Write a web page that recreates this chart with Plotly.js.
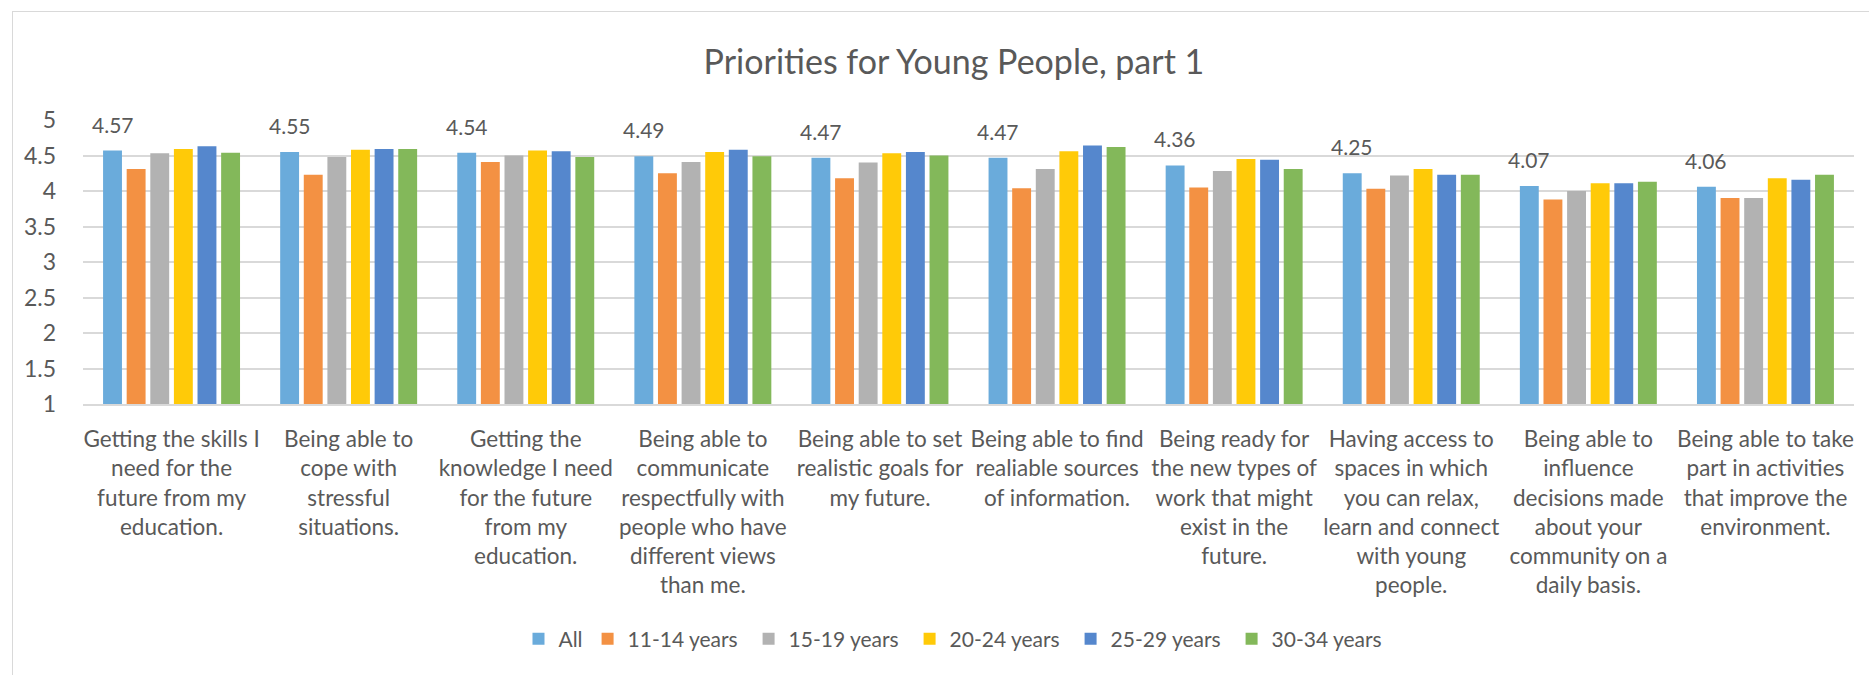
<!DOCTYPE html>
<html>
<head>
<meta charset="utf-8">
<script src="https://cdn.plot.ly/plotly-3.0.1.min.js"></script>
<style>
  html, body { margin: 0; padding: 0; background: #ffffff; overflow: hidden; }
  #chart { width: 1869px; height: 675px; }
  #frame { position: absolute; left: 12px; top: 11px; right: -5px; bottom: -5px;
           border: 1.5px solid #d9d9d9; pointer-events: none; }
</style>
</head>
<body>
<div id="chart"></div>
<div id="frame"></div>
<script>
const categories = [
  "Getting the skills I<br>need for the<br>future from my<br>education.",
  "Being able to<br>cope with<br>stressful<br>situations.",
  "Getting the<br>knowledge I need<br>for the future<br>from my<br>education.",
  "Being able to<br>communicate<br>respectfully with<br>people who have<br>different views<br>than me.",
  "Being able to set<br>realistic goals for<br>my future.",
  "Being able to find<br>realiable sources<br>of information.",
  "Being ready for<br>the new types of<br>work that might<br>exist in the<br>future.",
  "Having access to<br>spaces in which<br>you can relax,<br>learn and connect<br>with young<br>people.",
  "Being able to<br>influence<br>decisions made<br>about your<br>community on a<br>daily basis.",
  "Being able to take<br>part in activities<br>that improve the<br>environment."
];

const seriesNames = ["All", "11-14 years", "15-19 years", "20-24 years", "25-29 years", "30-34 years"];

const all    = [4.57, 4.55, 4.54, 4.49, 4.47, 4.47, 4.36, 4.25, 4.07, 4.06];
const age1114 = [4.31, 4.23, 4.41, 4.25, 4.18, 4.04, 4.05, 4.03, 3.88, 3.90];
const age1519 = [4.53, 4.48, 4.50, 4.41, 4.40, 4.31, 4.28, 4.22, 4.00, 3.90];
const age2024 = [4.59, 4.58, 4.57, 4.55, 4.53, 4.56, 4.45, 4.31, 4.11, 4.18];
const age2529 = [4.63, 4.59, 4.56, 4.58, 4.55, 4.64, 4.44, 4.23, 4.11, 4.16];
const age3034 = [4.54, 4.59, 4.48, 4.49, 4.50, 4.62, 4.31, 4.23, 4.13, 4.23];

const seriesValues = [all, age1114, age1519, age2024, age2529, age3034];
const colors = ["#6aabdb", "#f39143", "#b2b2b2", "#ffca08", "#5587cd", "#83b85a"];

const FONT = "Lato, 'Open Sans', 'Liberation Sans', sans-serif";
const TEXT = "#595959";
const bargap = 0.2;

const traces = seriesNames.map((name, i) => {
  const t = {
    type: "bar",
    name: name,
    x: categories,
    y: seriesValues[i],
    marker: { color: colors[i], line: { width: 0 } },
    hoverinfo: "x+y+name"
  };
  if (i > 0) t.legendwidth = 116;
  return t;
});

// Data labels above the "All" bars (first bar of each group)
const nSeries = seriesNames.length;
const slot = (1 - bargap) / nSeries;
const allOffset = -((nSeries - 1) / 2) * slot;
const annotations = all.map((v, i) => ({
  xref: "x", yref: "y",
  x: i + allOffset, y: v,
  text: v.toFixed(2),
  showarrow: false,
  yanchor: "bottom",
  yshift: 12,
  font: { family: FONT, size: 21, color: TEXT }
}));

const layout = {
  width: 1869, height: 675,
  paper_bgcolor: "rgba(0,0,0,0)",
  plot_bgcolor: "rgba(0,0,0,0)",
  margin: { l: 83, r: 15, t: 120, b: 271 },
  barmode: "group",
  bargap: bargap,
  bargroupgap: 0.2,
  title: {
    text: "Priorities for Young People, part 1",
    font: { family: FONT, size: 34, color: TEXT },
    xref: "container", x: 0.5104,
    yref: "container", y: 0.908, yanchor: "middle", xanchor: "center"
  },
  xaxis: {
    type: "category",
    tickfont: { family: FONT, size: 22.5, color: TEXT },
    showline: true, linecolor: "#d9d9d9", linewidth: 2,
    showgrid: false, ticks: "", tickangle: 0,
    ticklabelstandoff: 14,
    automargin: false
  },
  yaxis: {
    range: [1, 5], dtick: 0.5,
    tickfont: { family: FONT, size: 23, color: TEXT },
    gridcolor: "#d9d9d9", gridwidth: 2,
    zeroline: false, showline: false, ticks: "",
    ticklabelstandoff: 26,
    automargin: false
  },
  legend: {
    orientation: "h",
    xref: "container", x: 0.5115, xanchor: "center",
    yref: "container", y: 0.0533, yanchor: "middle",
    font: { family: FONT, size: 21, color: TEXT },
    itemwidth: 30,
    traceorder: "normal"
  },
  annotations: annotations,
  showlegend: true
};

Plotly.newPlot("chart", traces, layout, { displayModeBar: false, staticPlot: true });
</script>
</body>
</html>
